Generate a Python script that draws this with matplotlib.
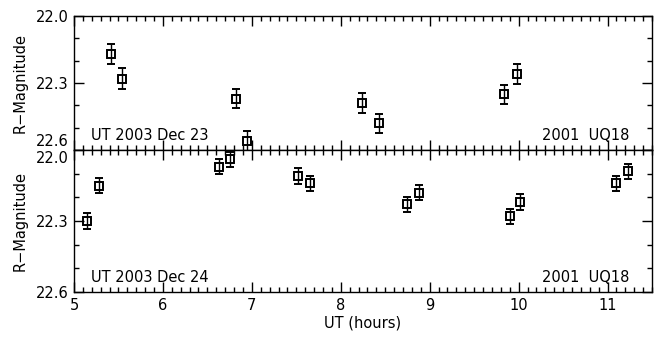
import matplotlib
matplotlib.use("Agg")
import matplotlib.pyplot as plt
import matplotlib.transforms as mtransforms
from matplotlib.ticker import MultipleLocator, FixedLocator

# 2001 UQ18 R-band photometry, two nights
dec23_ut = [5.42, 5.54, 6.82, 6.94, 8.24, 8.43, 9.84, 9.98]
dec23_mag = [22.17, 22.28, 22.37, 22.56, 22.39, 22.48, 22.35, 22.26]
dec23_err = [0.043, 0.045, 0.043, 0.043, 0.045, 0.043, 0.043, 0.045]

dec24_ut = [5.15, 5.28, 6.63, 6.75, 7.52, 7.65, 8.75, 8.88, 9.90, 10.02, 11.10, 11.23]
dec24_mag = [22.30, 22.15, 22.07, 22.04, 22.11, 22.14, 22.23, 22.18, 22.28, 22.22, 22.14, 22.09]
dec24_err = [0.032, 0.032, 0.031, 0.031, 0.032, 0.032, 0.033, 0.032, 0.032, 0.032, 0.032, 0.032]

mag_ticks = [22.0, 22.3, 22.6]

nights = [("UT 2003 Dec 23", dec23_ut, dec23_mag, dec23_err),
          ("UT 2003 Dec 24", dec24_ut, dec24_mag, dec24_err)]

plt.rcParams['font.family'] = ['DejaVu Sans']

fig = plt.figure(figsize=(6.70, 3.41), dpi=100)
left, right = 74 / 670, 652 / 670
tops = [1 - 16 / 341, 1 - 150 / 341]
bots = [1 - 150 / 341, 1 - 292 / 341]

for i, (label, ut, mag, err) in enumerate(nights):
    ax = fig.add_axes([left, bots[i], right - left, tops[i] - bots[i]])
    ax.errorbar(ut, mag, yerr=err, fmt='s', mfc='none', mec='black', ms=6,
                mew=1.4, ecolor='black', elinewidth=1.0, capsize=3, capthick=1.0)
    ax.set_xlim(5, 11.5)
    ax.set_ylim(22.6, 22.0)
    ax.xaxis.set_major_locator(MultipleLocator(1))
    ax.xaxis.set_minor_locator(MultipleLocator(0.1))
    ax.yaxis.set_major_locator(FixedLocator(mag_ticks))
    ax.yaxis.set_minor_locator(FixedLocator([22.1, 22.2, 22.4, 22.5]))
    ax.set_yticklabels(["%.1f" % t for t in mag_ticks])
    ax.tick_params(which='both', direction='in', top=True, right=True, width=1.0)
    ax.tick_params(which='major', length=7)
    ax.tick_params(which='minor', length=3.5)
    ax.tick_params(axis='both', labelsize=10.5, pad=4)
    for s in ax.spines.values():
        s.set_linewidth(1.0)
    ax.set_ylabel("R\u2212Magnitude", fontsize=10.5, labelpad=6)
    ax.text(0.03, 0.05, label, transform=ax.transAxes, fontsize=10.5,
            ha='left', va='bottom')
    ax.text(0.96, 0.05, "2001  UQ18", transform=ax.transAxes, fontsize=10.5,
            ha='right', va='bottom')

    # the 22.6 / 22.0 labels share the panel boundary: push them to either side of it
    ylabels = ax.get_yticklabels()
    if i == 0:
        ax.tick_params(axis='x', labelbottom=False)
        ylabels[-1].set_verticalalignment('bottom')
        shift = mtransforms.ScaledTranslation(0, 1 / 72, fig.dpi_scale_trans)
        ylabels[-1].set_transform(ylabels[-1].get_transform() + shift)
    else:
        ax.set_xlabel("UT (hours)", fontsize=10.5, labelpad=2)
        ylabels[0].set_verticalalignment('top')
        shift = mtransforms.ScaledTranslation(0, -1 / 72, fig.dpi_scale_trans)
        ylabels[0].set_transform(ylabels[0].get_transform() + shift)

fig.savefig("out.png", dpi=100)
